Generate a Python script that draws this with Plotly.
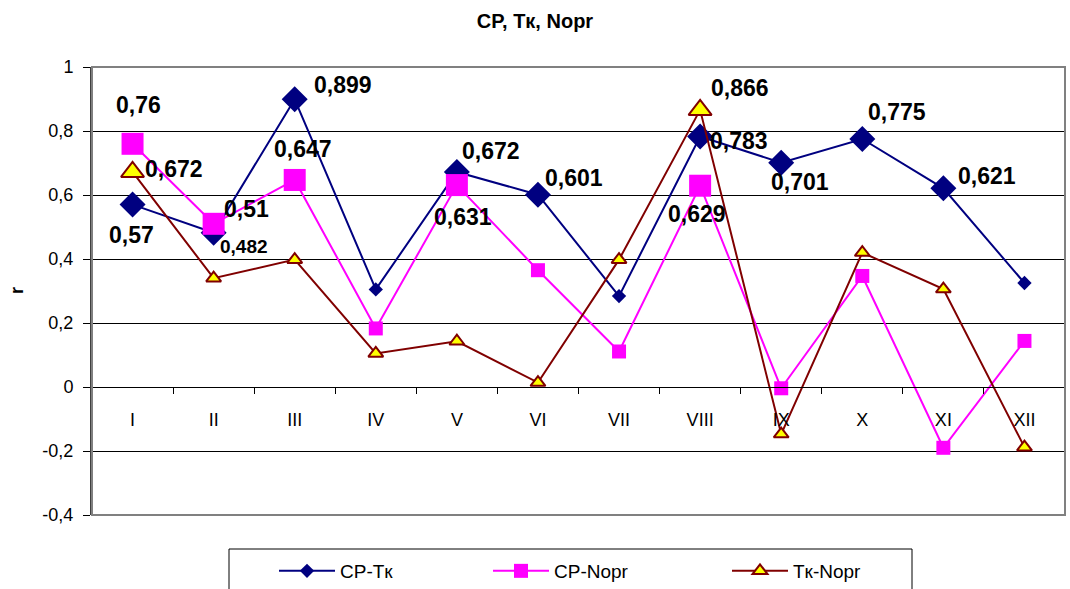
import plotly.graph_objects as go

# ---- data ----
months = ["I", "II", "III", "IV", "V", "VI", "VII", "VIII", "IX", "X", "XI", "XII"]
cp_tk = [0.57, 0.482, 0.899, 0.305, 0.672, 0.601, 0.284, 0.783, 0.701, 0.775, 0.621, 0.325]
cp_norg = [0.76, 0.51, 0.647, 0.183, 0.631, 0.365, 0.111, 0.629, -0.004, 0.347, -0.19, 0.144]
tk_norg = [0.672, 0.34, 0.398, 0.105, 0.143, 0.014, 0.398, 0.866, -0.147, 0.42, 0.306, -0.188]
y_ticks = [-0.4, -0.2, 0, 0.2, 0.4, 0.6, 0.8, 1]
y_tick_text = ["-0,4", "-0,2", "0", "0,2", "0,4", "0,6", "0,8", "1"]

# which points carry a value label
cp_tk_labelled = ["I", "II", "III", "V", "VI", "VIII", "IX", "X", "XI"]
cp_norg_labelled = ["I", "II", "III", "V", "VIII"]
tk_norg_labelled = ["I", "VIII"]

# ---- styling tables ----
FONT = "Liberation Sans, Arial, sans-serif"
# label offsets (px) relative to the point
LABEL_OFFSETS = {
    "CP-Tк": {"I": (-1, -30), "II": (30, -14), "III": (48, 14), "V": (34, 21), "VI": (36, 17),
              "VIII": (39, -5), "IX": (19, -19), "X": (35, 27), "XI": (44, 12)},
    "CP-Nopr": {"I": (6, 39), "II": (33, 15), "III": (8, 31), "V": (6, -32), "VIII": (-3, -28)},
    "Tк-Nopr": {"I": (41, 3), "VIII": (40, 22)},
}
SMALL_LABELS = {("CP-Tк", "II")}


def fmt(v):
    return f"{v:.3f}".rstrip("0").rstrip(".").replace(".", ",")


series = [
    dict(name="CP-Tк", y=cp_tk, lab=cp_tk_labelled, color="#000080", symbol="diamond",
         big=20, small=11, leg=11, fill="#000080", lw=0, legend="legend"),
    dict(name="CP-Nopr", y=cp_norg, lab=cp_norg_labelled, color="#FF00FF", symbol="square",
         big=22, small=14, leg=14, fill="#FF00FF", lw=0, legend="legend2"),
    dict(name="Tк-Nopr", y=tk_norg, lab=tk_norg_labelled, color="#800000", symbol="triangle-up",
         big=20, small=13, leg=13, fill="#FFFF00", lw=2, legend="legend3"),
]

fig = go.Figure()
annotations = []
for s in series:
    sizes = [s["big"] if m in s["lab"] else s["small"] for m in months]
    fig.add_trace(go.Scatter(
        x=months, y=s["y"], name=s["name"], mode="lines+markers",
        line=dict(color=s["color"], width=2),
        marker=dict(symbol=s["symbol"], size=sizes, color=s["fill"], opacity=1,
                    line=dict(color=s["color"], width=s["lw"])),
        showlegend=False, hoverinfo="x+y+name",
    ))
    # legend entry (same style, fixed marker size)
    fig.add_trace(go.Scatter(
        x=[None], y=[None], name=s["name"], mode="lines+markers",
        line=dict(color=s["color"], width=2),
        marker=dict(symbol=s["symbol"], size=s["leg"], color=s["fill"], opacity=1,
                    line=dict(color=s["color"], width=s["lw"])),
        legend=s["legend"], showlegend=True,
    ))
    for m in s["lab"]:
        i = months.index(m)
        dx, dy = LABEL_OFFSETS[s["name"]][m]
        small = (s["name"], m) in SMALL_LABELS
        annotations.append(dict(
            x=m, y=s["y"][i], xref="x", yref="y", text=fmt(s["y"][i]), showarrow=False,
            xshift=dx, yshift=dy,
            font=dict(family=FONT, size=19 if small else 23, color="black", weight="bold"),
        ))

# axis title "r"
annotations.append(dict(x=-75 / 973, y=0.5, xref="paper", yref="paper", text="<b>r</b>",
                        showarrow=False, textangle=-90, xanchor="center", yanchor="middle",
                        font=dict(family=FONT, size=18, color="black")))

shapes = [
    # plot-area border
    dict(type="rect", xref="paper", yref="paper", x0=0, x1=1, y0=0, y1=1,
         line=dict(color="#808080", width=2), layer="above"),
    # legend box
    dict(type="rect", xref="paper", yref="paper", x0=(229 - 92) / 973, x1=(912 - 92) / 973,
         y0=(515 - 620) / 448, y1=(515 - 549) / 448, line=dict(color="black", width=1)),
]

legend_common = dict(orientation="h", yanchor="middle", y=-56 / 448, xanchor="left",
                     bgcolor="rgba(0,0,0,0)", borderwidth=0, itemwidth=56, visible=True,
                     font=dict(family=FONT, size=19, color="black"))

fig.update_layout(
    width=1070, height=589, showlegend=True,
    margin=dict(l=92, r=5, t=67, b=74, autoexpand=False),
    paper_bgcolor="white", plot_bgcolor="white",
    title=dict(text="<b>CP, Tк, Nopr</b>", x=0.5, xref="container", y=1 - 21 / 589,
               yref="container", yanchor="middle", xanchor="center",
               font=dict(family=FONT, size=20, color="black")),
    xaxis=dict(type="category", range=[-0.5, 11.5], anchor="free", position=0.4 / 1.4,
               showline=True, linecolor="black", linewidth=1,
               ticks="outside", ticklen=6, tickcolor="black", tickson="boundaries",
               showgrid=False, zeroline=False, ticklabelstandoff=16,
               tickfont=dict(family=FONT, size=18, color="black")),
    yaxis=dict(range=[-0.4, 1], tickvals=y_ticks, ticktext=y_tick_text,
               showline=True, linecolor="#404040", linewidth=2,
               ticks="outside", ticklen=7, tickcolor="black",
               showgrid=True, gridcolor="black", gridwidth=1, zeroline=False,
               ticklabelstandoff=6,
               tickfont=dict(family=FONT, size=18, color="black")),
    legend=dict(**legend_common, x=(274 - 92) / 973),
    legend2=dict(**legend_common, x=(488 - 92) / 973),
    legend3=dict(**legend_common, x=(727 - 92) / 973),
    annotations=annotations,
    shapes=shapes,
)

fig.write_html("out.html")
